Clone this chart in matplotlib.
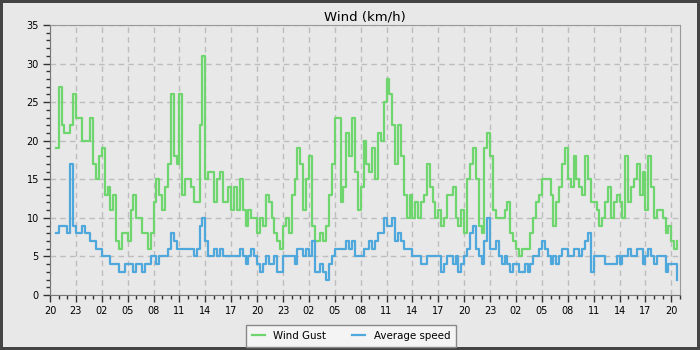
import pandas as pd
import matplotlib
matplotlib.use("Agg")
import matplotlib.pyplot as plt
import matplotlib.dates as mdates
from matplotlib.ticker import MultipleLocator

# 20 minute readings, starting 20:40
start = "2024-01-01 20:40"
gust = [
    19, 27, 22, 21, 21, 22, 26, 23, 23, 20, 20, 20, 23, 17, 15, 18, 19, 13, 14, 11, 13, 7, 6, 8, 8,
    7,
    11, 13, 10, 10, 8, 8, 6, 8, 12, 15, 13, 11, 14, 17, 26, 18, 17, 26, 13, 15, 15, 14, 12, 12, 22, 31, 15, 16,
    16, 12, 15, 16, 12, 12, 14, 11, 14, 11, 15, 11, 9, 11, 10, 10, 8, 10, 9, 13, 12, 10, 8, 7, 6, 9, 10,
    8, 13, 15, 19, 17, 11, 15, 18, 9, 7, 7, 8, 7, 9, 13, 17, 23, 23, 12, 14, 21, 18, 23, 16, 11, 14, 20, 17,
    16, 19, 15, 21, 20, 25, 28, 26, 22, 17, 22, 18, 13, 10, 13, 10, 12, 10, 12, 13, 17, 14, 12, 10, 11, 9, 10, 13,
    13, 14, 10, 9, 11, 8, 15, 17, 19, 15, 9, 8, 19, 21, 18, 11, 10, 10, 10, 11, 12, 8, 7, 6, 5, 6, 6, 6,
    8, 10, 12, 13, 15, 15, 15, 13, 9, 12, 14, 17, 19, 15, 14, 18, 15, 14, 13, 18, 15, 12, 12, 11, 9, 10, 12, 14,
    10, 12, 13, 12, 10, 18, 12, 14, 15, 17, 13, 16, 11, 18, 14, 10, 11, 11, 10, 8, 9, 7, 6, 7,
]
average = [
    8, 9, 9, 9, 8, 17, 9, 8, 8, 9, 8, 8, 7, 7, 6, 6, 5, 5, 5, 4, 4, 4, 3, 3, 4,
    4,
    4, 3, 4, 4, 3, 4, 4, 5, 5, 4, 5, 5, 5, 6, 8, 7, 6, 6, 6, 6, 6, 6, 5, 6, 9, 10, 7, 5,
    5, 6, 5, 6, 5, 5, 5, 5, 5, 5, 6, 5, 4, 5, 6, 5, 4, 3, 4, 5, 4, 4, 5, 3, 3, 5, 5,
    5, 5, 4, 6, 6, 5, 6, 5, 7, 3, 3, 4, 3, 2, 4, 5, 6, 6, 6, 6, 7, 6, 7, 5, 5, 5, 6, 6,
    7, 6, 7, 8, 8, 10, 9, 9, 10, 7, 8, 7, 6, 6, 6, 5, 5, 5, 4, 4, 5, 5, 5, 5, 5, 3, 4, 5,
    5, 4, 5, 3, 4, 5, 6, 8, 9, 6, 5, 4, 7, 10, 6, 6, 7, 5, 4, 5, 4, 3, 4, 4, 3, 3, 4, 3,
    4, 5, 5, 6, 7, 6, 5, 4, 5, 4, 5, 6, 6, 5, 5, 6, 6, 5, 6, 7, 8, 3, 5, 5, 5, 5, 4, 4,
    4, 4, 5, 4, 5, 5, 6, 5, 5, 6, 6, 4, 5, 6, 5, 4, 5, 5, 5, 3, 4, 4, 4, 2,
]
times = pd.date_range(start, periods=len(gust), freq="20min")

bg = "#e8e8e8"
fig = plt.figure(figsize=(7, 3.5), dpi=100, facecolor=bg,
                 edgecolor="#444444", linewidth=3)
ax = fig.add_axes([50 / 700, 55 / 350, 630 / 700, 270 / 350])
ax.set_facecolor(bg)

ax.plot(times, gust, drawstyle="steps-post", color="#6fd66f", lw=1.6,
        label="Wind Gust")
ax.plot(times, average, drawstyle="steps-post", color="#4ea8dc", lw=1.6,
        label="Average speed")

ax.set_xlim(pd.Timestamp("2024-01-01 20:00"), pd.Timestamp("2024-01-04 21:00"))
ax.set_ylim(0, 35)
ax.yaxis.set_major_locator(MultipleLocator(5))
ax.yaxis.set_minor_locator(MultipleLocator(1))
ax.xaxis.set_major_locator(mdates.HourLocator(byhour=range(2, 24, 3)))
ax.xaxis.set_minor_locator(mdates.HourLocator())
ax.xaxis.set_major_formatter(mdates.DateFormatter("%H"))

ax.tick_params(which="major", length=5, width=1, color="#333333",
               labelsize=7, pad=3)
ax.tick_params(which="minor", length=3, width=1, color="#333333")
for s in ax.spines.values():
    s.set_color("#999999")
ax.spines["left"].set_color("#777777")
ax.spines["bottom"].set_color("#777777")

ax.grid(which="major", color="#bdbdbd", linestyle=(0, (4, 3)), linewidth=1)
ax.set_title("Wind (km/h)", fontsize=9.5, pad=3)

leg = fig.legend(loc="center", bbox_to_anchor=(351 / 700, 14 / 350), ncol=2,
                 fontsize=7.4, frameon=True, fancybox=False, handlelength=1.3,
                 columnspacing=2.5, borderpad=0.6)
leg.get_frame().set_facecolor("#f4f4f4")
leg.get_frame().set_edgecolor("#888888")
leg.get_frame().set_alpha(1)

fig.savefig("out.png", dpi=100, facecolor=bg, edgecolor="#444444")
